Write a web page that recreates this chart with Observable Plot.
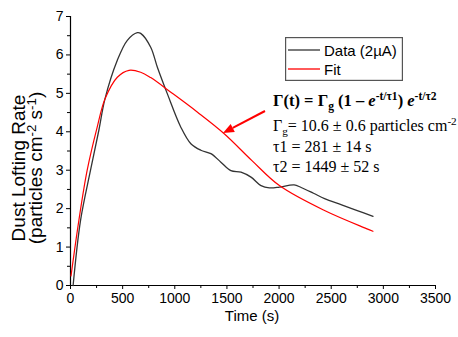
<!DOCTYPE html>
<html><head><meta charset="utf-8">
<script src="https://cdn.jsdelivr.net/npm/d3@7"></script>
<script src="https://cdn.jsdelivr.net/npm/@observablehq/plot@0.6"></script>
<style>body{margin:0;background:#fff;} #chart svg{overflow:hidden;display:block}</style>
</head><body><div id="chart"></div>
<script>
// Measured data (black curve)
const dataTime = [25, 96, 192, 272, 330, 449, 545, 641, 673, 769, 833, 930, 1058, 1154, 1250, 1346, 1442, 1538, 1635, 1731, 1827, 1907, 2003, 2144, 2212, 2330, 2436, 2600, 2750, 2901];
const dataRate = [0, 1.69, 3.0, 4.04, 4.85, 5.86, 6.38, 6.58, 6.56, 6.2, 5.68, 4.98, 4.12, 3.69, 3.52, 3.43, 3.21, 2.99, 2.95, 2.82, 2.6, 2.54, 2.56, 2.62, 2.55, 2.4, 2.26, 2.1, 1.95, 1.80];
// Fit (red curve)
const fitTime = [5, 80, 160, 256, 330, 449, 561, 673, 769, 962, 1218, 1474, 1740, 2003, 2436, 2837, 2900];
const fitRate = [0.25, 1.69, 3.0, 4.12, 4.85, 5.42, 5.6, 5.55, 5.41, 5.03, 4.51, 3.95, 3.25, 2.6, 1.95, 1.48, 1.41];

const xTicks = [0, 500, 1000, 1500, 2000, 2500, 3000, 3500];
const xMinor = [250, 750, 1250, 1750, 2250, 2750, 3250];
const yTicks = [0, 1, 2, 3, 4, 5, 6, 7];
const yMinor = [0.5, 1.5, 2.5, 3.5, 4.5, 5.5, 6.5];

const legendLabels = ["Data (2\u00B5A)", "Fit"];
const seriesColors = ["#333333", "#ff0000"];

const data = dataTime.map((t, i) => ({t, v: dataRate[i]}));
const fit = fitTime.map((t, i) => ({t, v: fitRate[i]}));

const sans = "'Liberation Sans', Arial, sans-serif";
const serif = "'Liberation Serif', 'Times New Roman', serif";

const plot = Plot.plot({
  width: 458, height: 337,
  marginLeft: 70, marginRight: 23, marginTop: 16, marginBottom: 52,
  style: {fontFamily: sans, fontSize: "14px", background: "#fff", color: "#000"},
  x: {domain: [0, 3500]},
  y: {domain: [0, 7]},
  marks: [
    Plot.axisX({ticks: xTicks, tickSize: 4, tickPadding: 4, label: null, tickFormat: d => `${d}`, fontSize: 14}),
    Plot.axisX({ticks: xMinor, tickSize: 3, label: null, tickFormat: () => ""}),
    Plot.axisY({ticks: yTicks, tickSize: 4, tickPadding: 3, label: null, tickFormat: d => `${d}`, fontSize: 14}),
    Plot.axisY({ticks: yMinor, tickSize: 3, label: null, tickFormat: () => ""}),
    Plot.ruleX([0], {stroke: "#000", strokeWidth: 1.2}),
    Plot.ruleY([0], {stroke: "#000", strokeWidth: 1.2}),
    Plot.line(data, {x: "t", y: "v", stroke: seriesColors[0], strokeWidth: 1.3, curve: "catmull-rom"}),
    Plot.line(fit, {x: "t", y: "v", stroke: seriesColors[1], strokeWidth: 1.2, curve: "catmull-rom"})
  ]
});
document.getElementById("chart").appendChild(plot);

const svg = d3.select(plot);

function rich(g, x, y, segs, attrs) {
  const t = g.append("text").attr("x", x).attr("y", y);
  Object.entries(attrs || {}).forEach(([k, v]) => t.attr(k, v));
  let shift = 0;
  segs.forEach(s => {
    const want = s.sub ? 4 : s.sup ? -6 : 0;
    const ts = t.append("tspan").text(s.t).attr("dy", want - shift);
    shift = want;
    if (s.sub || s.sup) ts.attr("font-size", s.size || "70%");
    if (s.it) ts.attr("font-style", "italic");
  });
  return t;
}

// x axis label
svg.append("text").attr("x", 252).attr("y", 321).attr("text-anchor", "middle")
  .attr("font-family", sans).attr("font-size", 15).text("Time (s)");

// y axis label (two lines)
const yl = svg.append("g").attr("transform", "translate(0,168) rotate(-90)")
  .attr("font-family", sans).attr("font-size", 19).attr("text-anchor", "middle");
yl.append("text").attr("x", 0).attr("y", 25).text("Dust Lofting Rate");
rich(yl, 0, 41.5, [{t: "(particles cm"}, {t: "-2", sup: true}, {t: " s"}, {t: "-1", sup: true}, {t: ")"}], {"text-anchor": "middle"});

// legend
const lg = svg.append("g").attr("font-family", sans).attr("font-size", 15).attr("text-anchor", "start");
lg.append("rect").attr("x", 285).attr("y", 37).attr("width", 118).attr("height", 44)
  .attr("fill", "#555555");
lg.append("rect").attr("x", 286.2).attr("y", 38.2).attr("width", 115.6).attr("height", 41.6)
  .attr("fill", "#ffffff");
[50, 69].forEach((ly, i) => {
  lg.append("line").attr("x1", 288).attr("x2", 320).attr("y1", ly).attr("y2", ly)
    .attr("stroke", seriesColors[i]).attr("stroke-width", 1.3);
  lg.append("text").attr("x", 324).attr("y", ly + 5.5).text(legendLabels[i]);
});

// equation block
const eq = svg.append("g").attr("font-family", serif).attr("font-size", 16).attr("fill", "#000").attr("text-anchor", "start");
rich(eq, 273, 106, [
  {t: "\u0393(t) = \u0393"}, {t: "g", sub: true}, {t: " (1 \u2013 "}, {t: "e", it: true},
  {t: "-t/\u03C41", sup: true}, {t: ") "}, {t: "e", it: true}, {t: "-t/\u03C42", sup: true}
], {"font-weight": "bold", "font-size": 16.5});
rich(eq, 273, 131, [{t: "\u0393"}, {t: "g", sub: true}, {t: "= 10.6 \u00B1 0.6 particles cm"}, {t: "-2", sup: true}]);
eq.append("text").attr("x", 273).attr("y", 152).text("\u03C41 = 281 \u00B1 14 s");
eq.append("text").attr("x", 273).attr("y", 172).text("\u03C42 = 1449 \u00B1 52 s");

// annotation arrow pointing at the fit
const ax0 = 265, ay0 = 111, ax1 = 223, ay1 = 133;
const ang = Math.atan2(ay1 - ay0, ax1 - ax0);
const hl = 11, hw = 4.5;
const bx = ax1 - hl * Math.cos(ang), by = ay1 - hl * Math.sin(ang);
svg.append("line").attr("x1", ax0).attr("y1", ay0).attr("x2", bx).attr("y2", by)
  .attr("stroke", "#ff0000").attr("stroke-width", 2);
svg.append("polygon").attr("fill", "#ff0000").attr("points", [
  [ax1, ay1],
  [bx + hw * Math.sin(ang), by - hw * Math.cos(ang)],
  [bx - hw * Math.sin(ang), by + hw * Math.cos(ang)]
].map(p => p.join(",")).join(" "));
</script></body></html>
